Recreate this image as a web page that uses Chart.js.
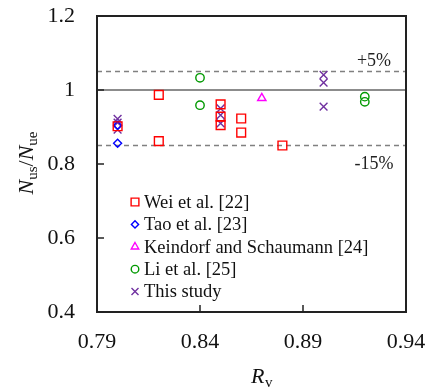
<!DOCTYPE html>
<html><head><meta charset="utf-8">
<script src="https://cdn.jsdelivr.net/npm/chart.js@4/dist/chart.umd.min.js"></script>
<style>html,body{margin:0;padding:0;background:#fff}#wrap{width:430px;height:388px}</style>
</head><body><div id="wrap"><canvas id="c" width="430" height="388"></canvas></div>
<script>
const seriesNames = ["Wei et al. [22]", "Tao et al. [23]", "Keindorf and Schaumann [24]", "Li et al. [25]", "This study"];
const weiX = [0.80, 0.82, 0.82, 0.85, 0.85, 0.85, 0.86, 0.86, 0.88];
const weiY = [0.902, 0.987, 0.862, 0.961, 0.928, 0.905, 0.923, 0.885, 0.850];
const taoX = [0.80, 0.80];
const taoY = [0.905, 0.856];
const keiX = [0.87];
const keiY = [0.978];
const liX = [0.84, 0.84, 0.92, 0.92];
const liY = [1.033, 0.959, 0.982, 0.968];
const studyX = [0.80, 0.80, 0.80, 0.85, 0.85, 0.85, 0.90, 0.90, 0.90];
const studyY = [0.922, 0.912, 0.893, 0.950, 0.932, 0.910, 1.041, 1.020, 0.955];
const xTicks = [0.79, 0.84, 0.89, 0.94];
const yTicks = [0.4, 0.6, 0.8, 1.0, 1.2];
const refLines = [1.05, 1.0, 0.85];
const refLabels = ["+5%", "", "-15%"];

const SERIF = "'Liberation Serif','Times New Roman',serif";
const pts = (xs, ys) => xs.map((x, i) => ({x, y: ys[i]}));

const styles = [
  {color:'#ff0000', style:'rect', r:6.2},
  {color:'#0000ff', style:'rectRot', r:4},
  {color:'#ff00ff', style:'triangle', r:4.8},
  {color:'#009900', style:'circle', r:4.2},
  {color:'#7030a0', style:'crossRot', r:5.5}
];
const seriesData = [pts(weiX, weiY), pts(taoX, taoY), pts(keiX, keiY), pts(liX, liY), pts(studyX, studyY)];

const refDatasets = refLines.map((v, i) => ({
  label: 'ref' + i,
  data: [{x: xTicks[0], y: v}, {x: xTicks[xTicks.length - 1], y: v}],
  showLine: true, pointRadius: 0, borderColor: v === 1.0 ? '#8c8c8c' : '#808080',
  borderWidth: v === 1.0 ? 2 : 1.4, borderDash: v === 1.0 ? [] : [5, 4], order: 10
}));

const datasets = seriesNames.map((n, i) => ({
  label: n, data: seriesData[i], showLine: false,
  pointStyle: styles[i].style, pointRadius: styles[i].r, pointHoverRadius: styles[i].r,
  borderColor: styles[i].color, backgroundColor: 'rgba(0,0,0,0)', pointBorderWidth: 1.4, order: 1
})).concat(refDatasets);

function drawMarker(ctx, style, x, y, r) {
  ctx.beginPath();
  if (style === 'rect') { const s = Math.SQRT1_2 * r; ctx.rect(x - s, y - s, 2 * s, 2 * s); }
  else if (style === 'rectRot') { ctx.moveTo(x, y - r); ctx.lineTo(x + r, y); ctx.lineTo(x, y + r); ctx.lineTo(x - r, y); ctx.closePath(); }
  else if (style === 'triangle') { ctx.moveTo(x, y - r); ctx.lineTo(x + r * 0.866, y + r * 0.5); ctx.lineTo(x - r * 0.866, y + r * 0.5); ctx.closePath(); }
  else if (style === 'circle') { ctx.arc(x, y, r, 0, Math.PI * 2); }
  else if (style === 'crossRot') { const s = Math.SQRT1_2 * r; ctx.moveTo(x - s, y - s); ctx.lineTo(x + s, y + s); ctx.moveTo(x + s, y - s); ctx.lineTo(x - s, y + s); }
  ctx.stroke();
}

const decor = {
  id: 'decor',
  afterDraw(chart) {
    const ctx = chart.ctx, a = chart.chartArea, xs = chart.scales.x, ys = chart.scales.y;
    ctx.save();
    ctx.strokeStyle = '#222'; ctx.lineWidth = 2;
    ctx.strokeRect(a.left, a.top, a.right - a.left, a.bottom - a.top);
    ctx.lineWidth = 1.5;
    yTicks.forEach(v => { const p = ys.getPixelForValue(v); ctx.beginPath(); ctx.moveTo(a.left, p); ctx.lineTo(a.left + 7, p); ctx.stroke(); });
    xTicks.forEach(v => { const p = xs.getPixelForValue(v); ctx.beginPath(); ctx.moveTo(p, a.bottom); ctx.lineTo(p, a.bottom - 7); ctx.stroke(); });
    ctx.fillStyle = '#222'; ctx.font = '18px ' + SERIF; ctx.textAlign = 'center'; ctx.textBaseline = 'middle';
    refLines.forEach((v, i) => {
      if (!refLabels[i]) return;
      const p = ys.getPixelForValue(v);
      ctx.fillText(refLabels[i], 374, i === 0 ? p - 10 : p + 19);
    });
    ctx.textAlign = 'left'; ctx.textBaseline = 'middle'; ctx.font = '18.5px ' + SERIF;
    seriesNames.forEach((n, i) => {
      const y = 202 + i * 22.4;
      ctx.strokeStyle = styles[i].color; ctx.lineWidth = 1.4;
      drawMarker(ctx, styles[i].style, 135, y, styles[i].style === 'rect' ? 5.5 : styles[i].r * 0.9);
      ctx.fillStyle = '#111'; ctx.fillText(n, 144, y + 1);
    });
    ctx.fillStyle = '#111';
    ctx.textBaseline = 'alphabetic';
    ctx.font = 'italic 22px ' + SERIF; ctx.textAlign = 'left';
    ctx.fillText('R', 251, 383);
    ctx.font = '15px ' + SERIF; ctx.fillText('v', 265, 387);
    ctx.save();
    ctx.translate(33, 163); ctx.rotate(-Math.PI / 2);
    const parts = [['N', 'italic 22px ', 0], ['us', '15px ', 4], ['/', '22px ', 0], ['N', 'italic 22px ', 0], ['ue', '15px ', 4]];
    let total = 0;
    parts.forEach(p => { ctx.font = p[1] + SERIF; total += ctx.measureText(p[0]).width; });
    let cx = -total / 2;
    parts.forEach(p => { ctx.font = p[1] + SERIF; ctx.fillText(p[0], cx, p[2]); cx += ctx.measureText(p[0]).width; });
    ctx.restore();
    ctx.restore();
  }
};

new Chart(document.getElementById('c'), {
  type: 'scatter',
  data: { datasets },
  options: {
    responsive: false, animation: false, devicePixelRatio: 1,
    layout: { padding: { left: 0, right: 24, top: 16, bottom: 0 } },
    plugins: { legend: { display: false }, tooltip: { enabled: false } },
    scales: {
      x: {
        type: 'linear', min: xTicks[0], max: xTicks[xTicks.length - 1],
        afterBuildTicks: s => { s.ticks = xTicks.map(v => ({value: v})); },
        afterFit: s => { s.height = 76; s.paddingLeft = 0; s.paddingRight = 0; },
        grid: { display: false }, border: { display: true, color: '#222', width: 2 },
        ticks: { color: '#111', font: { family: SERIF, size: 22 }, padding: 9, maxRotation: 0,
          callback: v => v.toFixed(2) }
      },
      y: {
        type: 'linear', min: yTicks[0], max: yTicks[yTicks.length - 1],
        afterBuildTicks: s => { s.ticks = yTicks.map(v => ({value: v})); },
        afterFit: s => { s.width = 97; s.paddingTop = 0; s.paddingBottom = 0; },
        grid: { display: false }, border: { display: true, color: '#222', width: 2 },
        ticks: { color: '#111', font: { family: SERIF, size: 22 }, padding: 14,
          callback: v => (Math.abs(v - 1) < 1e-9 ? '1' : String(Math.round(v * 10) / 10)) }
      }
    }
  },
  plugins: [decor]
});
</script></body></html>
